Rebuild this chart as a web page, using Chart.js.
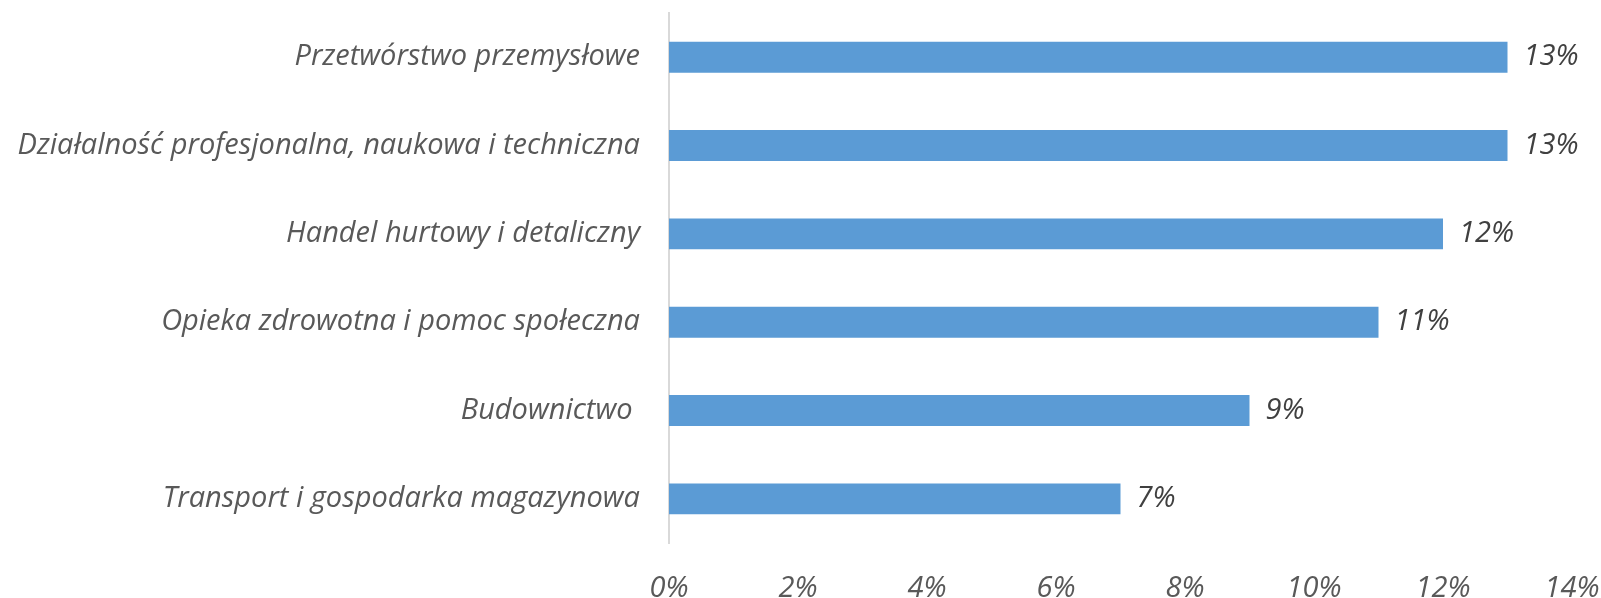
<!DOCTYPE html>
<html lang="pl">
<head>
  <meta charset="UTF-8" />
  <title>Sektory</title>
  <script src="https://cdn.jsdelivr.net/npm/chart.js"></script>
  <style>
    * { box-sizing: border-box; }
    body { margin: 0; padding: 0; background: #fff; }
    #wrap { width: 1601px; height: 598px; }
  </style>
</head>
<body>
  <div id="wrap"><canvas id="chart"></canvas></div>
  <script>
    // dane
    const sectors = [
      'Przetwórstwo przemysłowe',
      'Działalność profesjonalna, naukowa i techniczna',
      'Handel hurtowy i detaliczny',
      'Opieka zdrowotna i pomoc społeczna',
      'Budownictwo ',
      'Transport i gospodarka magazynowa'
    ];
    const shares = [13, 13, 12, 11, 9, 7];
    const xTicks = [0, 2, 4, 6, 8, 10, 12, 14];

    const FONT = { family: '"Open Sans", sans-serif', size: 29, style: 'italic' };

    // etykiety wartości przy słupkach
    const valueLabels = {
      id: 'valueLabels',
      afterDatasetsDraw(chart) {
        const ctx = chart.ctx;
        const meta = chart.getDatasetMeta(0);
        ctx.save();
        ctx.font = `italic ${FONT.size}px ${FONT.family}`;
        ctx.fillStyle = '#404040';
        ctx.textBaseline = 'middle';
        ctx.textAlign = 'left';
        meta.data.forEach((bar, i) => {
          ctx.fillText(shares[i] + '%', bar.x + 16, bar.y);
        });
        ctx.restore();
      }
    };

    new Chart(document.getElementById('chart'), {
      type: 'bar',
      data: {
        labels: sectors,
        datasets: [{
          data: shares,
          backgroundColor: '#5B9BD5',
          categoryPercentage: 0.7,
          barPercentage: 0.5
        }]
      },
      options: {
        indexAxis: 'y',
        responsive: true,
        maintainAspectRatio: false,
        animation: false,
        layout: { padding: { top: 13, right: 29, left: 0, bottom: 0 } },
        plugins: { legend: { display: false }, tooltip: { enabled: false } },
        scales: {
          x: {
            min: 0, max: 14,
            afterBuildTicks(s) { s.ticks = xTicks.map(v => ({ value: v })); },
            afterFit(s) { s.height = 55; s.paddingLeft = 0; s.paddingRight = 0; },
            grid: { display: false },
            border: { display: false },
            ticks: {
              font: FONT, color: '#595959', padding: 20, maxRotation: 0,
              callback: v => v + '%'
            }
          },
          y: {
            afterFit(s) { s.width = 669; s.paddingTop = 0; s.paddingBottom = 0; },
            grid: { display: false },
            border: { display: true, color: '#D9D9D9', width: 2 },
            ticks: { font: FONT, color: '#595959', padding: 21 }
          }
        }
      },
      plugins: [valueLabels]
    });
  </script>
</body>
</html>
